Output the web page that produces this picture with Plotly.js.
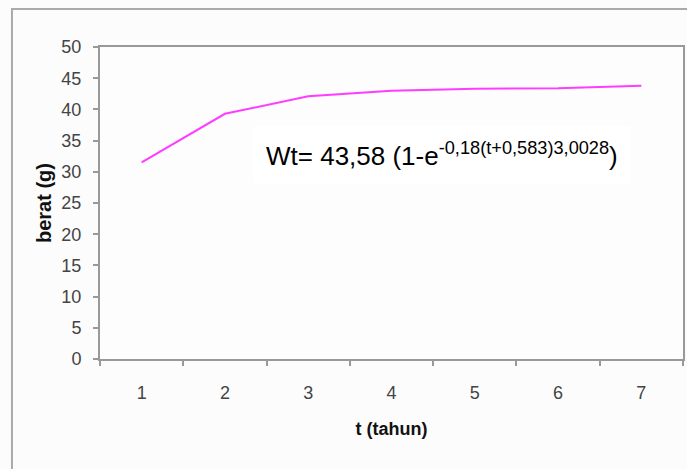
<!DOCTYPE html>
<html>
<head>
<meta charset="utf-8">
<script src="https://cdn.plot.ly/plotly-3.0.1.min.js"></script>
<style>html,body{margin:0;padding:0;background:#fcfcfc;}#chart{width:687px;height:469px;}</style>
</head>
<body>
<div id="chart"></div>
<script>
var categories = ["1", "2", "3", "4", "5", "6", "7"];
var berat = [31.5, 39.3, 42.1, 43.0, 43.3, 43.4, 43.8];
var yTicks = [0, 5, 10, 15, 20, 25, 30, 35, 40, 45, 50];
var equationText = "Wt= 43,58 (1-e<sup>-0,18(t+0,583)3,0028</sup>)";

var trace = {
  x: categories,
  y: berat,
  type: "scatter",
  mode: "lines",
  line: {color: "#ff3cff", width: 2},
  hoverinfo: "skip"
};

var layout = {
  width: 687,
  height: 469,
  margin: {l: 100, r: 4, t: 47, b: 109.5, pad: 0},
  paper_bgcolor: "#fcfcfc",
  plot_bgcolor: "#fdfdfd",
  showlegend: false,
  font: {family: "Liberation Sans, Arial, sans-serif", color: "#333"},
  xaxis: {
    type: "category",
    range: [-0.5, 6.5],
    tickson: "boundaries",
    ticks: "outside",
    ticklen: 5,
    tickwidth: 2,
    tickcolor: "#999",
    showline: true,
    mirror: true,
    linecolor: "#999",
    linewidth: 2,
    showgrid: false,
    zeroline: false,
    ticklabelstandoff: 16,
    tickfont: {size: 18, color: "#444"},
    title: {text: "t (tahun)", font: {size: 18, color: "#111", weight: "bold"}, standoff: 21},
    automargin: false
  },
  yaxis: {
    range: [0, 50],
    tickvals: yTicks,
    ticks: "outside",
    ticklen: 5,
    tickwidth: 2,
    tickcolor: "#999",
    showline: true,
    mirror: true,
    linecolor: "#999",
    linewidth: 2,
    showgrid: false,
    zeroline: false,
    ticklabelstandoff: 8,
    tickfont: {size: 18, color: "#444"},
    title: {text: "berat (g)", font: {size: 20, color: "#111", weight: "bold"}, standoff: 4},
    automargin: false
  },
  annotations: [{
    xref: "paper", yref: "paper",
    x: 0.262, y: 0.655,
    xanchor: "left", yanchor: "middle",
    text: equationText,
    showarrow: false,
    font: {size: 26, color: "#000", family: "Liberation Sans, Arial, sans-serif"},
    bgcolor: "#ffffff",
    borderpad: 12
  }],
  shapes: [{
    type: "rect", xref: "paper", yref: "paper",
    x0: -0.151, x1: 1.02, y0: -0.4, y1: 1.1216,
    line: {color: "#aaa", width: 2},
    fillcolor: "rgba(0,0,0,0)",
    layer: "below"
  }]
};

Plotly.newPlot("chart", [trace], layout, {displayModeBar: false, staticPlot: true});
</script>
</body>
</html>
